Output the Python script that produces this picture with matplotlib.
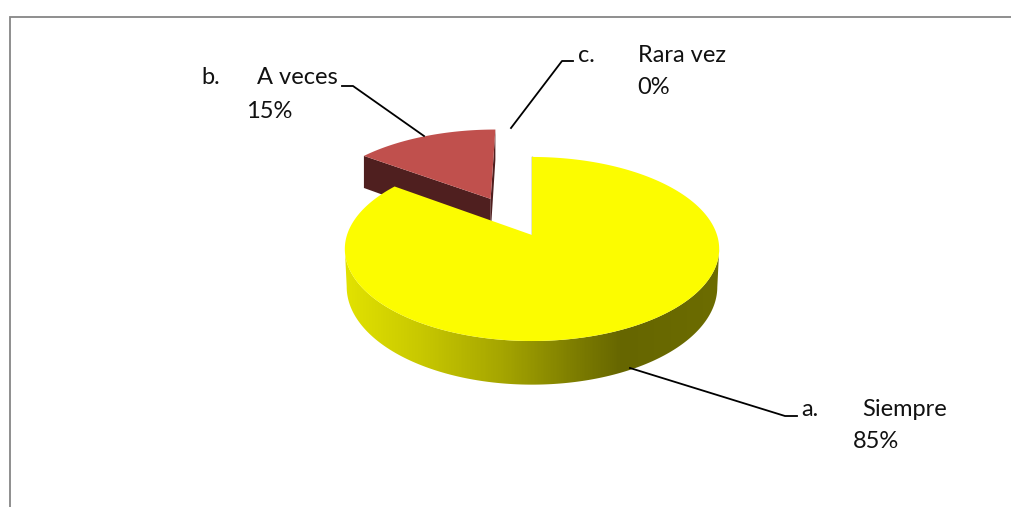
import numpy as np
import matplotlib
matplotlib.use("Agg")
import matplotlib.pyplot as plt
from matplotlib.colors import LinearSegmentedColormap
from matplotlib.patches import Polygon

# data
labels = ["a.", "b.", "c."]
names = ["Siempre", "A veces", "Rara vez"]
values = [85, 15, 0]
pct_labels = ["85%", "15%", "0%"]

plt.rcParams["font.family"] = ["Lato", "DejaVu Sans"]

# pie layout, in pixels
APEX_X, APEX_Y = 532, 235
RX, RY = 185, 89.9
PERSP = 0.152
DEPTH = 37
EXPLODE = 0.48
RED_SHIFT = -3.5


def project(u, v):
    w = 1 + PERSP * v
    return APEX_X + RX * u / w, APEX_Y - RY * v / w, DEPTH / w


def slice_points(start, end, offset=0.0):
    # angles clockwise from the top, in degrees
    mid = np.radians((start + end) / 2)
    t = np.radians(np.linspace(start, end, 400))
    u0, v0 = offset * np.sin(mid), offset * np.cos(mid)
    x, y, d = project(u0 + np.sin(t), v0 + np.cos(t))
    ax0, ay0, ad0 = project(u0, v0)
    return x, y, d, ax0, ay0, ad0


fig = plt.figure(figsize=(10.11, 5.07), dpi=100)
ax = fig.add_axes([0, 0, 1, 1])
ax.axis("off")

# chart frame, right and bottom run off the picture
ax.plot([9.5, 9.5, 1011], [507, 16.5, 16.5], color="#868686", lw=1.3, solid_joinstyle="miter")

# slices in clockwise order from the top
angles = np.cumsum([0] + values) / sum(values) * 360

# red slice, pulled out
x, y, d, ax0, ay0, ad0 = slice_points(angles[1], angles[2], EXPLODE)
x = x + RED_SHIFT
ax0 = ax0 + RED_SHIFT
ax.fill([x[0], ax0, ax0, x[0]], [y[0], ay0, ay0 + ad0, y[0] + d[0]], color="#4f1f1f", lw=0, zorder=2)
ax.fill([x[-1], ax0, ax0, x[-1]], [y[-1], ay0, ay0 + ad0, y[-1] + d[-1]], color="#4f1f1f", lw=0, zorder=2)
ax.fill(np.r_[ax0, x], np.r_[ay0, y], color="#c0504d", lw=0, zorder=3)

# yellow slice, side wall first
x, y, d, ax0, ay0, ad0 = slice_points(angles[0], angles[1])
ramp = LinearSegmentedColormap.from_list(
    "side",
    [(0.0, "#e2e200"), (0.2, "#c8c800"), (0.42, "#a5a500"), (0.6, "#808000"),
     (0.74, "#666600"), (1.0, "#6c6c00")],
)
i0, i1 = np.argmax(x), np.argmin(x)
wall_x = x[i0:i1 + 1]
wall_y = y[i0:i1 + 1]
low_x = ax0 + (wall_x - ax0) * 0.99
low_y = wall_y + d[i0:i1 + 1]
wall = Polygon(np.c_[np.r_[wall_x, low_x[::-1]], np.r_[wall_y, low_y[::-1]]],
               closed=True, facecolor="none", edgecolor="none", transform=ax.transData)
ax.add_patch(wall)
grad = ax.imshow(np.linspace(0, 1, 400)[None, :], cmap=ramp, aspect="auto", zorder=4,
                 extent=[x.min(), x.max(), low_y.max() + 1, wall_y.min() - 1])
grad.set_clip_path(wall)
ax.plot([x[0], ax0], [y[0], ay0], color="#7a7a00", lw=1.0, zorder=4)
ax.fill(np.r_[ax0, x], np.r_[ay0, y], color="#fcfc00", lw=0, zorder=5)

# leader lines
leaders = [
    ([630, 785, 797], [368, 416, 416]),
    ([424, 353, 342], [136, 86, 86]),
    ([511, 562, 573], [128, 61, 61]),
]
for lx, ly in leaders:
    ax.plot(lx, ly, color="black", lw=1.3, zorder=6)

# text
label_pos = [(801, 409), (201, 78), (578, 55)]
name_pos = [(862, 409), (257, 78), (638, 55)]
pct_pos = [(853, 442), (246, 111), (637, 88)]
for i in range(len(labels)):
    ax.text(*label_pos[i], labels[i], fontsize=17, va="center", ha="left", color="#111111")
    ax.text(*name_pos[i], names[i], fontsize=17, va="center", ha="left", color="#111111")
    ax.text(*pct_pos[i], pct_labels[i], fontsize=17, va="center", ha="left", color="#111111")

ax.set_xlim(0, 1011)
ax.set_ylim(507, 0)

fig.savefig("out.png", dpi=100)
